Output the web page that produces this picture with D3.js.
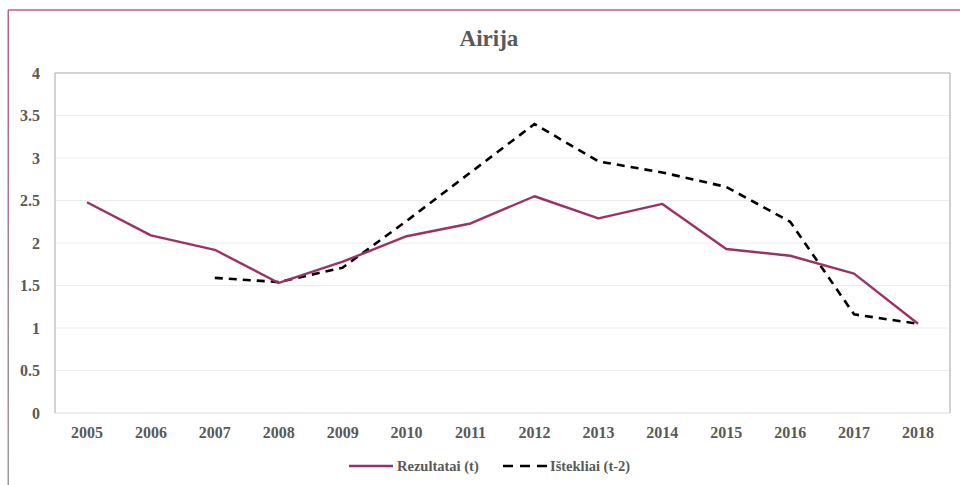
<!DOCTYPE html>
<html>
<head>
<meta charset="utf-8">
<script src="https://cdn.jsdelivr.net/npm/d3@7"></script>
<style>
  body { margin: 0; background: #fff; }
  text { font-family: "Liberation Serif", "Times New Roman", serif; font-weight: bold; fill: #595959; }
</style>
</head>
<body>
<div id="container"></div>
<script>
// data
var years = ["2005","2006","2007","2008","2009","2010","2011","2012","2013","2014","2015","2016","2017","2018"];
var rezultatai = [2.48, 2.09, 1.92, 1.53, 1.78, 2.08, 2.23, 2.55, 2.29, 2.46, 1.93, 1.85, 1.64, 1.05];
var istekliai = [null, null, 1.59, 1.54, 1.71, 2.26, 2.83, 3.40, 2.96, 2.83, 2.66, 2.25, 1.16, 1.05];
var yTicks = [0, 0.5, 1, 1.5, 2, 2.5, 3, 3.5, 4];

var W = 960, H = 485;
var plotLeft = 55, plotRight = 950, plotTop = 73, plotBottom = 413;

var svg = d3.select("#container")
  .append("svg")
  .attr("width", W)
  .attr("height", H);

var defs = svg.append("defs");
var grad = defs.append("linearGradient")
  .attr("id", "frame")
  .attr("x1", 0).attr("y1", 0).attr("x2", 0).attr("y2", 1);
grad.append("stop").attr("offset", "0%").attr("stop-color", "#b5628e");
grad.append("stop").attr("offset", "100%").attr("stop-color", "#9a9a9a");

// outer chart frame (only top and left visible)
svg.append("line")
  .attr("x1", 8).attr("y1", 10).attr("x2", W).attr("y2", 10)
  .attr("stroke", "#b5628e").attr("stroke-width", 1.5);
svg.append("rect")
  .attr("x", 7.5).attr("y", 10).attr("width", 1.5).attr("height", H - 10)
  .attr("fill", "url(#frame)");

var x = d3.scaleBand().domain(years).range([plotLeft, plotRight]);
var y = d3.scaleLinear().domain([0, 4]).range([plotBottom, plotTop]);

// gridlines
svg.append("g")
  .selectAll("line")
  .data(yTicks.filter(function(d){ return d > 0 && d < 4; }))
  .enter().append("line")
  .attr("x1", plotLeft).attr("x2", plotRight)
  .attr("y1", function(d){ return y(d); })
  .attr("y2", function(d){ return y(d); })
  .attr("stroke", "#ececec")
  .attr("stroke-width", 1);

// plot area border
svg.append("line").attr("x1", plotLeft).attr("x2", plotRight).attr("y1", plotTop).attr("y2", plotTop)
  .attr("stroke", "#a6a6a6").attr("stroke-width", 1);
svg.append("line").attr("x1", plotLeft).attr("x2", plotLeft).attr("y1", plotTop).attr("y2", plotBottom)
  .attr("stroke", "#a6a6a6").attr("stroke-width", 1);
svg.append("line").attr("x1", plotRight).attr("x2", plotRight).attr("y1", plotTop).attr("y2", plotBottom)
  .attr("stroke", "#b3b3b3").attr("stroke-width", 1.2);
svg.append("line").attr("x1", plotLeft).attr("x2", plotRight).attr("y1", plotBottom).attr("y2", plotBottom)
  .attr("stroke", "#d9d9d9").attr("stroke-width", 1.2);

// y axis labels
var yAxis = d3.axisLeft(y).tickValues(yTicks).tickSize(0).tickPadding(15)
  .tickFormat(function(d){ return String(d); });
var gy = svg.append("g").attr("transform", "translate(" + plotLeft + ",0)").call(yAxis);
gy.select(".domain").remove();
gy.selectAll("text")
  .style("font-family", "'Liberation Serif', serif")
  .style("font-weight", "bold")
  .style("font-size", "16px")
  .attr("fill", "#595959");

// x axis labels
var xAxis = d3.axisBottom(x).tickSize(0).tickPadding(14);
var gx = svg.append("g").attr("transform", "translate(0," + plotBottom + ")").call(xAxis);
gx.select(".domain").remove();
gx.selectAll("text")
  .style("font-family", "'Liberation Serif', serif")
  .style("font-weight", "bold")
  .style("font-size", "16px")
  .attr("fill", "#595959");

function cx(i){ return x(years[i]) + x.bandwidth() / 2; }

var line = d3.line()
  .defined(function(d){ return d != null; })
  .x(function(d, i){ return cx(i); })
  .y(function(d){ return y(d); });

svg.append("path")
  .datum(istekliai)
  .attr("d", line)
  .attr("fill", "none")
  .attr("stroke", "#000")
  .attr("stroke-width", 2.6)
  .attr("stroke-dasharray", "8,6");

svg.append("path")
  .datum(rezultatai)
  .attr("d", line)
  .attr("fill", "none")
  .attr("stroke", "#993366")
  .attr("stroke-width", 2.4)
  .attr("stroke-linejoin", "round");

// title
svg.append("text")
  .text("Airija")
  .attr("x", 489)
  .attr("y", 46)
  .attr("text-anchor", "middle")
  .style("font-size", "23px");

// legend
svg.append("line")
  .attr("x1", 349).attr("x2", 393).attr("y1", 466).attr("y2", 466)
  .attr("stroke", "#993366").attr("stroke-width", 2.4);
svg.append("text")
  .text("Rezultatai (t)")
  .attr("x", 397).attr("y", 471)
  .style("font-size", "14.5px");

svg.append("line")
  .attr("x1", 503).attr("x2", 547).attr("y1", 466).attr("y2", 466)
  .attr("stroke", "#000").attr("stroke-width", 2.6)
  .attr("stroke-dasharray", "10,7");
svg.append("text")
  .text("Ištekliai (t-2)")
  .attr("x", 550).attr("y", 471)
  .style("font-size", "14.5px");
</script>
</body>
</html>
